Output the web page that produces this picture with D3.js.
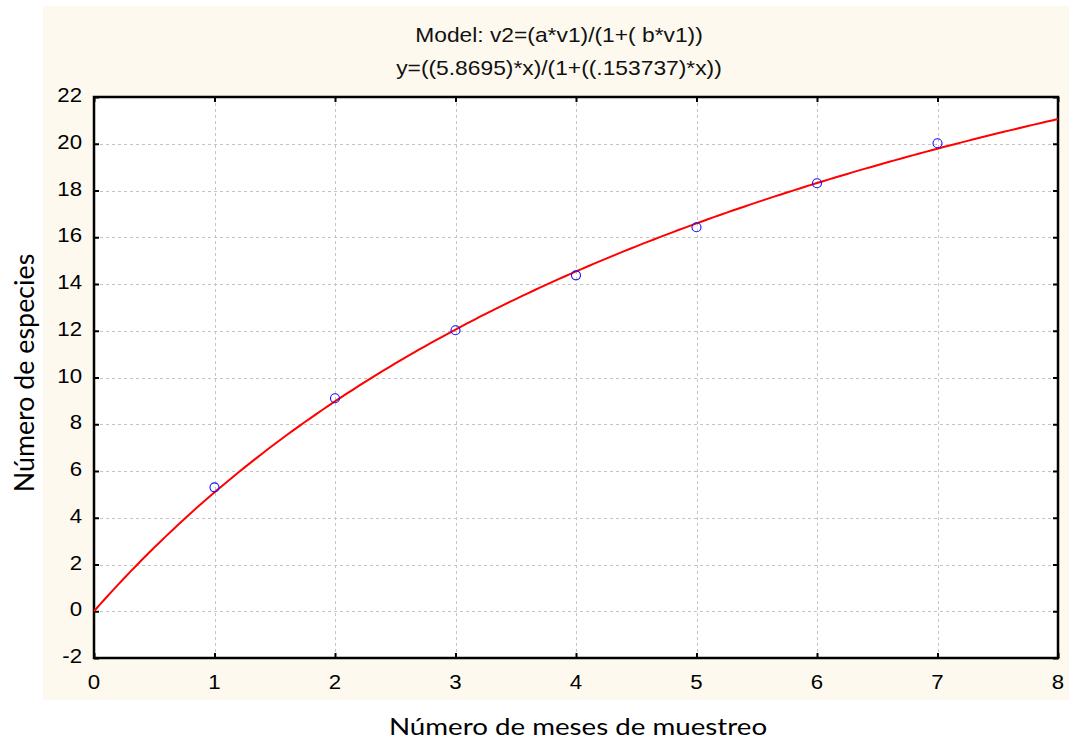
<!DOCTYPE html>
<html>
<head>
<meta charset="utf-8">
<script src="https://cdn.jsdelivr.net/npm/d3@7"></script>
<style>
  body { margin: 0; background: #fff; }
  svg { display: block; }
</style>
</head>
<body>
<svg id="chart" width="1069" height="744"></svg>
<script>
// observed points (month, species)
const months = [1, 2, 3, 4, 5, 6, 7];
const species = [5.3, 9.11, 12.02, 14.37, 16.43, 18.31, 20.02];
// fitted model from the chart title: y = a*x / (1 + b*x)
const paramA = 5.8695;
const paramB = 0.153737;
const xTicks = [0, 1, 2, 3, 4, 5, 6, 7, 8];
const yTicks = [-2, 0, 2, 4, 6, 8, 10, 12, 14, 16, 18, 20, 22];
const titleLines = ['Model: v2=(a*v1)/(1+( b*v1))', 'y=((5.8695)*x)/(1+((.153737)*x))'];

const width = 1069;
const height = 744;
const margin = {top: 97, right: 11, bottom: 86, left: 94};
const tickFont = '"Liberation Sans", Arial, sans-serif';
const labelFont = 'Lato, "Noto Sans", sans-serif';
// the source picture is stretched a little horizontally
const stretch = 'scale(1.14,1)';

const svg = d3.select('#chart');

// cream panel behind the chart
svg.append('rect')
  .attr('x', 43).attr('y', 6)
  .attr('width', width - 43).attr('height', 694)
  .attr('fill', '#fef9ee');

const x = d3.scaleLinear().domain([0, 8]).range([margin.left, width - margin.right]);
const y = d3.scaleLinear().domain([-2, 22]).range([height - margin.bottom, margin.top]);

svg.append('rect')
  .attr('x', x(0)).attr('y', y(22))
  .attr('width', x(8) - x(0)).attr('height', y(-2) - y(22))
  .attr('fill', '#fff');

// grid
const grid = svg.append('g')
  .attr('stroke', '#c4c4c4')
  .attr('stroke-width', 1)
  .attr('stroke-dasharray', '3,3');
grid.selectAll('.gx')
  .data(xTicks.slice(1, -1))
  .join('line')
  .attr('x1', (d) => Math.round(x(d)) + 0.5).attr('x2', (d) => Math.round(x(d)) + 0.5)
  .attr('y1', y(22)).attr('y2', y(-2));
grid.selectAll('.gy')
  .data(yTicks.slice(1, -1))
  .join('line')
  .attr('y1', (d) => Math.round(y(d)) + 0.5).attr('y2', (d) => Math.round(y(d)) + 0.5)
  .attr('x1', x(0)).attr('x2', x(8));

// axes with inward ticks on all four sides
const axes = [
  [d3.axisTop(x).tickValues(xTicks), `translate(0,${y(-2)})`],
  [d3.axisBottom(x).tickValues(xTicks), `translate(0,${y(22)})`],
  [d3.axisRight(y).tickValues(yTicks), `translate(${x(0)},0)`],
  [d3.axisLeft(y).tickValues(yTicks), `translate(${x(8)},0)`],
];
axes.forEach(([ax, tr]) => {
  const g = svg.append('g')
    .attr('transform', tr)
    .call(ax.tickSize(5).tickFormat(''));
  g.select('.domain').remove();
  g.selectAll('line').attr('stroke', '#000').attr('stroke-width', 2);
});

// frame
svg.append('rect')
  .attr('x', x(0)).attr('y', y(22))
  .attr('width', x(8) - x(0)).attr('height', y(-2) - y(22))
  .attr('fill', 'none')
  .attr('stroke', '#000')
  .attr('stroke-width', 2.5);

// tick labels
svg.append('g')
  .selectAll('text')
  .data(xTicks)
  .join('text')
  .attr('transform', (d) => `translate(${x(d)},${y(-2) + 31}) ${stretch}`)
  .attr('text-anchor', 'middle')
  .attr('font-family', tickFont)
  .attr('font-size', 19.5)
  .text((d) => d);
svg.append('g')
  .selectAll('text')
  .data(yTicks)
  .join('text')
  .attr('transform', (d) => `translate(${x(0) - 12},${y(d) + 5}) ${stretch}`)
  .attr('text-anchor', 'end')
  .attr('font-family', tickFont)
  .attr('font-size', 19.5)
  .text((d) => d);

// fitted curve
const curveX = d3.range(0, 8.0001, 0.05);
const line = d3.line()
  .x((d) => x(d))
  .y((d) => y(paramA * d / (1 + paramB * d)));
svg.append('path')
  .datum(curveX)
  .attr('d', line)
  .attr('fill', 'none')
  .attr('stroke', '#ff0000')
  .attr('stroke-width', 2);

// observed points
svg.append('g')
  .selectAll('circle')
  .data(months)
  .join('circle')
  .attr('cx', (d) => x(d))
  .attr('cy', (d, i) => y(species[i]))
  .attr('r', 4.5)
  .attr('fill', 'none')
  .attr('stroke', '#1010ff')
  .attr('stroke-width', 1.1);

// title
svg.append('g')
  .selectAll('text')
  .data(titleLines)
  .join('text')
  .attr('transform', (d, i) => `translate(559,${42 + i * 33}) ${stretch}`)
  .attr('text-anchor', 'middle')
  .attr('font-family', tickFont)
  .attr('font-size', 20)
  .attr('fill', '#111')
  .text((d) => d);

// axis titles
svg.append('text')
  .attr('transform', 'translate(578,735) scale(1.155,1)')
  .attr('text-anchor', 'middle')
  .attr('font-family', labelFont)
  .attr('font-size', 24)
  .text('Número de meses de muestreo');
svg.append('text')
  .attr('transform', 'translate(34,373) rotate(-90)')
  .attr('text-anchor', 'middle')
  .attr('font-family', labelFont)
  .attr('font-size', 26.8)
  .text('Número de especies');
</script>
</body>
</html>
